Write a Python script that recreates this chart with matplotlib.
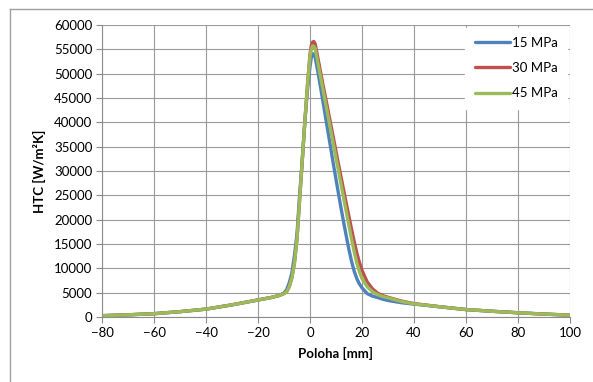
import matplotlib
matplotlib.use('Agg')
import matplotlib.pyplot as plt
from matplotlib.lines import Line2D

plt.rcParams['font.family'] = ['Lato', 'DejaVu Sans']

# -------------------- data --------------------
poloha = [-80, -70, -60, -50, -40, -30, -20, -15, -12, -11, -10, -9, -8, -7, -6, -5,
          -4, -3, -2, -1, 0, 0.5, 1, 1.5, 2, 3, 4, 5, 6, 7, 8, 9, 10, 11, 12, 13, 14,
          15, 16, 17, 18, 19, 20, 22, 24, 26, 28, 30, 35, 40, 50, 60, 70, 80, 90, 100]

htc_15 = [270, 450, 680, 1100, 1620, 2500, 3500, 4000, 4400, 4650, 4950, 5600, 7000,
          9000, 12500, 17000, 25000, 32000, 40000, 46500, 51500, 53300, 54100, 54000,
          53300, 50500, 47400, 44200, 41000, 37800, 34600, 31400, 28300, 25200, 22200,
          19300, 16500, 13800, 11400, 9400, 7900, 6800, 6000, 4800, 4300, 4000, 3650,
          3400, 2950, 2650, 2100, 1530, 1180, 870, 600, 380]

htc_30 = [270, 450, 680, 1100, 1620, 2500, 3500, 4000, 4400, 4600, 4800, 5200, 6200,
          8000, 11000, 16000, 24000, 32000, 40000, 47500, 54000, 55800, 56500, 56600,
          56100, 53300, 50500, 47700, 45000, 42300, 39500, 36800, 34000, 31300, 28600,
          25900, 23200, 20600, 18000, 15500, 13200, 11200, 9600, 7200, 5800, 4900, 4400,
          4050, 3300, 2750, 2100, 1530, 1180, 870, 600, 380]

htc_45 = [270, 450, 680, 1100, 1620, 2500, 3500, 4000, 4400, 4600, 4800, 5200, 6200,
          8000, 11000, 16000, 24000, 32000, 40000, 47500, 53500, 55000, 55700, 55600,
          55200, 52300, 49500, 46700, 43900, 41100, 38300, 35500, 32700, 29900, 27100,
          24300, 21500, 18700, 16000, 13400, 11100, 9300, 7900, 6200, 5200, 4600, 4200,
          3950, 3200, 2700, 2100, 1530, 1180, 870, 600, 380]

labels = ['15 MPa', '30 MPa', '45 MPa']
colors = ['#4F81BD', '#C0504D', '#9BBB59']
x_ticks = list(range(-80, 101, 20))
y_ticks = list(range(0, 60001, 5000))

# -------------------- figure --------------------
fig = plt.figure(figsize=(5.93, 3.82), dpi=100)
ax = fig.add_axes([102/593, 1-317/382, (570-102)/593, (317-25)/382])

for y, lab, c in zip([htc_15, htc_30, htc_45], labels, colors):
    ax.plot(poloha, y, color=c, lw=2.4, label=lab, solid_capstyle='round',
            solid_joinstyle='round')

ax.set_xlim(-80, 100)
ax.set_ylim(0, 60000)
ax.set_xticks(x_ticks)
ax.set_yticks(y_ticks)
ax.grid(True, color='#9a9a9a', lw=0.8)
ax.set_axisbelow(True)
for s in ['top', 'right']:
    ax.spines[s].set_visible(False)
for s in ['left', 'bottom']:
    ax.spines[s].set_color('#8c8c8c')
    ax.spines[s].set_linewidth(0.8)
ax.tick_params(length=4, width=0.8, color='#8c8c8c', labelsize=9.5, pad=3)

ax.set_xlabel('Poloha [mm]', fontsize=9.5, fontweight='bold', labelpad=6)
ax.set_ylabel('HTC [W/m²K]', fontsize=9.5, fontweight='bold', labelpad=6)

leg = ax.legend(loc='upper right', bbox_to_anchor=(1.0, 1.0), frameon=True,
                fancybox=False, edgecolor='white', facecolor='white', framealpha=1,
                fontsize=9.5, handlelength=2.7, handletextpad=0.15,
                labelspacing=1.0, borderpad=0.7, borderaxespad=0.2)

# outer chart frame
fig.add_artist(Line2D([10/593, 1], [1-9/382, 1-9/382], color='#a0a0a0', lw=1))
fig.add_artist(Line2D([10/593, 10/593], [0, 1-9/382], color='#a0a0a0', lw=1))

fig.savefig('out.png', dpi=100)
